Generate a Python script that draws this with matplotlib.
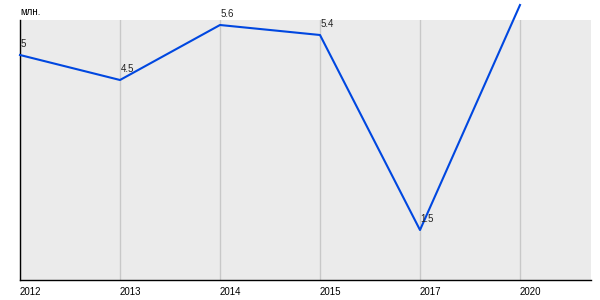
import matplotlib.pyplot as plt

years = ['2012', '2013', '2014', '2015', '2017', '2020']
values = [5.0, 4.5, 5.6, 5.4, 1.5, 6.0]
labels = ['5', '4.5', '5.6', '5.4', '1.5', '6']
unit = 'млн.'

plt.rcParams['font.family'] = ['Liberation Sans', 'DejaVu Sans']

fig = plt.figure(figsize=(6, 3), dpi=100)
ax = fig.add_axes([20 / 600, 20 / 300, 571 / 600, 260 / 300])
ax.set_facecolor('#ebebeb')

xs = list(range(len(years)))
ax.plot(xs, values, color='#0047e0', lw=1.5, clip_on=False, zorder=3)

for x, v, t in zip(xs, values, labels):
    ax.annotate(t, (x, v), xytext=(0.5, 4), textcoords='offset points',
                ha='left', va='bottom', fontsize=7, color='#222222', zorder=4)

ax.set_xlim(0, 5.71)
ax.set_ylim(0.5, 5.7)
ax.set_xticks(xs)
ax.set_xticklabels(years, ha='left', fontsize=7)
ax.tick_params(axis='x', length=0, pad=5)
ax.set_yticks([])
ax.grid(axis='x', color='#c8c8c8', lw=1)
ax.set_axisbelow(True)
for s in ['top', 'right']:
    ax.spines[s].set_visible(False)
for s in ['left', 'bottom']:
    ax.spines[s].set_color('black')
    ax.spines[s].set_linewidth(1)

fig.text(20 / 600, 1 - 12 / 300, unit, fontsize=7, ha='left', va='center')

fig.savefig('out.png')
